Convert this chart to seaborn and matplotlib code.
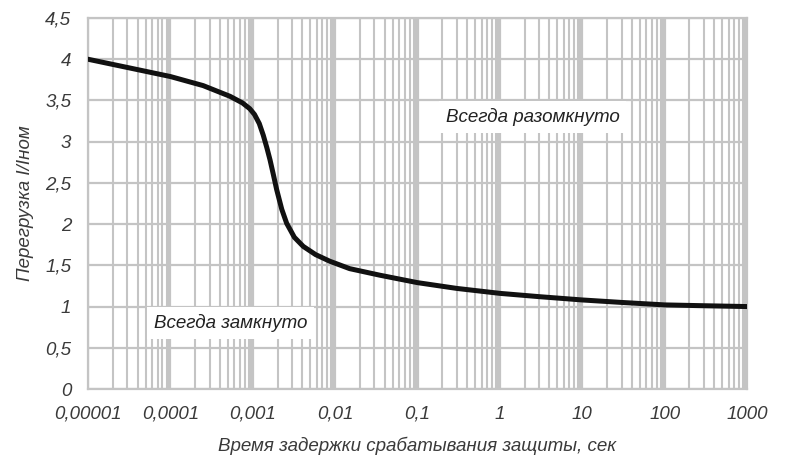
import numpy as np
import pandas as pd
import matplotlib
matplotlib.use("Agg")
import matplotlib.pyplot as plt
import matplotlib.ticker as mticker
import seaborn as sns

# --- data ---
time_s = [1e-5, 3e-5, 1e-4, 2.5e-4, 5.3e-4, 7.5e-4, 9.2e-4, 1.05e-3, 1.2e-3,
          1.34e-3, 1.48e-3, 1.62e-3, 1.78e-3, 1.95e-3, 2.25e-3, 2.58e-3,
          3.2e-3, 4.1e-3, 5.8e-3, 8.6e-3, 0.015, 0.035, 0.1, 0.3, 1, 3, 10,
          30, 100, 300, 1000]
overload = [4.00, 3.90, 3.79, 3.68, 3.55, 3.47, 3.40, 3.33, 3.22,
            3.08, 2.93, 2.78, 2.60, 2.42, 2.18, 2.01,
            1.84, 1.73, 1.63, 1.55, 1.46, 1.38, 1.29, 1.22, 1.16, 1.12, 1.08,
            1.05, 1.02, 1.01, 1.00]
x_ticks = [1e-5, 1e-4, 1e-3, 1e-2, 1e-1, 1, 10, 100, 1000]
x_tick_labels = ["0,00001", "0,0001", "0,001", "0,01", "0,1", "1", "10", "100", "1000"]
y_ticks = [0, 0.5, 1, 1.5, 2, 2.5, 3, 3.5, 4, 4.5]
y_tick_labels = ["0", "0,5", "1", "1,5", "2", "2,5", "3", "3,5", "4", "4,5"]
label_closed = "Всегда замкнуто"
label_open = "Всегда разомкнуто"
x_title = "Время задержки срабатывания защиты, сек"
y_title = "Перегрузка I/Iном"

df = pd.DataFrame({"t": time_s, "k": overload})

sns.set_style("white")
plt.rcParams["font.family"] = ["Liberation Sans", "DejaVu Sans"]

grid_c = "#c4c4c4"
text_c = "#3a3a3a"
fs = 13.5

fig = plt.figure(figsize=(7.87, 4.61), dpi=100)
ax = fig.add_axes([88/787, (461-389)/461, (747-88)/787, (389-18)/461])

ax.set_xscale("log")
ax.set_xlim(1e-5, 1000)
ax.set_ylim(0, 4.5)

# decade bands (dense lines near each decade)
for xt in x_ticks[1:]:
    ax.axvspan(xt * 0.9, xt, color=grid_c, lw=0, zorder=0.5)

ax.xaxis.set_major_locator(mticker.FixedLocator(x_ticks))
ax.xaxis.set_minor_locator(mticker.LogLocator(base=10, subs=np.arange(2, 10), numticks=20))
ax.xaxis.set_minor_formatter(mticker.NullFormatter())
ax.set_xticklabels(x_tick_labels)
ax.set_yticks(y_ticks)
ax.set_yticklabels(y_tick_labels)
ax.yaxis.set_minor_locator(mticker.MultipleLocator(0.25))

ax.grid(True, which="major", axis="both", color=grid_c, lw=1.6, zorder=0.6)
ax.grid(True, which="minor", axis="x", color=grid_c, lw=1.5, zorder=0.6)
ax.set_axisbelow(True)

for s in ax.spines.values():
    s.set_color(grid_c)
    s.set_linewidth(1.6)

ax.tick_params(axis="both", which="major", direction="out", length=6, width=1.5,
               color=grid_c, labelcolor=text_c, labelsize=fs, pad=6)
ax.tick_params(axis="y", which="minor", direction="inout", length=12, width=1.5, color=grid_c)
ax.tick_params(axis="x", which="minor", direction="in", length=5, width=1.2, color=grid_c)
for lab in ax.get_xticklabels() + ax.get_yticklabels():
    lab.set_fontstyle("italic")

sns.lineplot(data=df, x="t", y="k", ax=ax, color="#111111", lw=3.6, zorder=3)

ax.set_xlabel(x_title, fontsize=fs, fontstyle="italic", color=text_c, labelpad=10)
ax.set_ylabel(y_title, fontsize=fs, fontstyle="italic", color=text_c, labelpad=8)

box = dict(facecolor="white", edgecolor="none", pad=5)
ax.text(5.4e-4, 0.80, label_closed, ha="center", va="center", fontsize=fs,
        fontstyle="italic", color="#222222", bbox=box, zorder=4)
ax.text(2.5, 3.30, label_open, ha="center", va="center", fontsize=fs,
        fontstyle="italic", color="#222222", bbox=box, zorder=4)

fig.savefig("out.png", dpi=100)
